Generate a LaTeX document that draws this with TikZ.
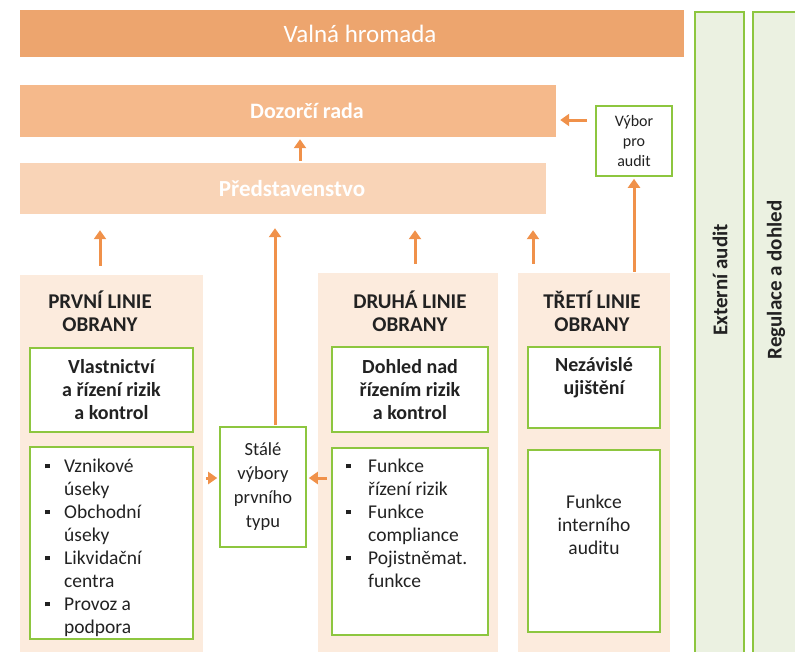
\documentclass[tikz,border=0pt]{standalone}
\usepackage{fontspec}
\setmainfont{Carlito}
\usetikzlibrary{arrows.meta}

\definecolor{hromada}{HTML}{EDA56E}
\definecolor{dozor}{HTML}{F5B98B}
\definecolor{predst}{HTML}{F9D4B7}
\definecolor{linebg}{HTML}{FCEBDD}
\definecolor{arr}{HTML}{F0914A}
\definecolor{grn}{HTML}{8DC63F}
\definecolor{sidebg}{HTML}{EBF1E1}
\definecolor{ink}{HTML}{222222}

\tikzset{
  bar/.style={rectangle, fill=#1, text=white, inner sep=0pt},
  defence/.style={rectangle, fill=linebg, inner sep=0pt},
  gbox/.style={rectangle, draw=grn, line width=1.6pt, fill=white, inner sep=0pt, align=center, text=ink},
  side/.style={rectangle, draw=grn, line width=1.6pt, fill=sidebg, inner sep=0pt},
  title/.style={align=center, text=ink, font=\bfseries\fontsize{21}{23}\selectfont},
  up/.style={draw=arr, line width=3pt, -{Triangle[width=12pt,length=9pt]}},
}
\newcommand{\bul}{\rule[0.2em]{4.5pt}{4.5pt}}

\begin{document}
\begin{tikzpicture}[x=1pt, y=-1pt, font=\fontsize{19.5}{23}\selectfont]
  \useasboundingbox (0,0) rectangle (795,651);

  % bodies of the company
  \node[bar=hromada, minimum width=664pt, minimum height=47pt, font=\fontsize{25}{28}\selectfont] (valna) at (352,33.5) {\hspace*{16pt}Valná hromada};
  \node[bar=dozor, minimum width=536pt, minimum height=52pt, font={\bfseries\fontsize{22}{26}\selectfont}] (dozor) at (288,111) {\hspace*{38pt}Dozorčí rada};
  \node[bar=predst, minimum width=526pt, minimum height=51pt, font={\bfseries\fontsize{23}{26}\selectfont}] (predst) at (283,188.5) {\hspace*{18pt}Představenstvo};
  \node[gbox, minimum width=76pt, minimum height=70pt, font=\fontsize{16}{20}\selectfont] (vybor) at (634,141) {Výbor\\pro\\audit};

  % external columns
  \node[side, minimum width=49pt, minimum height=660pt] (ext) at (719.5,342) {};
  \node[side, minimum width=57pt, minimum height=660pt] (reg) at (781.5,342) {};
  \node[rotate=90, text=ink, font={\bfseries\fontsize{21}{24}\selectfont}] (exttxt) at (720,280) {Externí audit};
  \node[rotate=90, text=ink, font={\bfseries\fontsize{21}{24}\selectfont}] (regtxt) at (776,280) {Regulace a dohled};

  % three lines of defence
  \node[defence, minimum width=183pt, minimum height=390pt] (col1) at (111.5,470) {};
  \node[defence, minimum width=180pt, minimum height=392pt] (col2) at (408,469) {};
  \node[defence, minimum width=152pt, minimum height=392pt] (col3) at (594,469) {};

  \node[title] (tit1) at (100,311) {PRVNÍ LINIE\\OBRANY};
  \node[title] (tit2) at (410,311) {DRUHÁ LINIE\\OBRANY};
  \node[title] (tit3) at (592,311) {TŘETÍ LINIE\\OBRANY};

  \node[gbox, minimum width=163pt, minimum height=84pt, font={\bfseries\fontsize{20}{23}\selectfont}] (own1) at (111.5,390) {Vlastnictví\\a řízení rizik\\a kontrol};
  \node[gbox, minimum width=156pt, minimum height=85pt, font={\bfseries\fontsize{20}{23}\selectfont}] (own2) at (410,389.5) {Dohled nad\\řízením rizik\\a kontrol};
  \node[gbox, minimum width=132pt, minimum height=81pt, font={\bfseries\fontsize{20}{23}\selectfont}] (own3) at (594,387.5) {Nezávislé\\ujištění\\~};

  \node[gbox, minimum width=163pt, minimum height=192pt] (list1) at (111.5,543) {};
  \node[gbox, minimum width=156pt, minimum height=187pt] (list2) at (410,541.5) {};
  \node[gbox, minimum width=132pt, minimum height=182pt] (list3) at (594,541) {};
  \node[gbox, minimum width=86pt, minimum height=120pt, font=\fontsize{18.5}{24}\selectfont] (stale) at (263,487) {Stálé\\výbory\\prvního\\typu};

  \node[anchor=north west, inner sep=0pt, text=ink] (list1txt) at (45,456) {%
    \begin{tabular}{@{}p{19pt}@{}l@{}}
      \bul & Vznikové\\ & úseky\\
      \bul & Obchodní\\ & úseky\\
      \bul & Likvidační\\ & centra\\
      \bul & Provoz a\\ & podpora
    \end{tabular}};
  \node[anchor=north west, inner sep=0pt, text=ink] (list2txt) at (346,456) {%
    \begin{tabular}{@{}p{22pt}@{}l@{}}
      \bul & Funkce\\ & řízení rizik\\
      \bul & Funkce\\ & compliance\\
      \bul & Pojistněmat.\\ & funkce
    \end{tabular}};
  \node[align=center, text=ink] (list3txt) at (594,525) {Funkce\\interního\\auditu};

  % reporting arrows
  \coordinate (yvybor) at (0,120);
  \draw[up, shorten <=2pt, shorten >=2pt] ([xshift=17pt]predst.north) -- ([xshift=17pt]predst.north |- dozor.south);
  \draw[up, shorten <=8pt, shorten >=4pt] (vybor.west |- yvybor) -- (dozor.east |- yvybor);
  \draw[up, shorten <=1pt, shorten >=2pt] (col3.north -| vybor.south) -- (vybor.south);
  \draw[up, shorten <=9pt, shorten >=16pt] ([xshift=-11.5pt]col1.north) -- ([xshift=-11.5pt]col1.north |- predst.south);
  \draw[up, shorten <=9pt, shorten >=16pt] ([xshift=7pt]col2.north) -- ([xshift=7pt]col2.north |- predst.south);
  \draw[up, shorten <=9pt, shorten >=16pt] ([xshift=-61pt]col3.north) -- ([xshift=-61pt]col3.north |- predst.south);
  \draw[up, shorten <=1pt, shorten >=14pt] ([xshift=12pt]stale.north) -- ([xshift=12pt]stale.north |- predst.south);
  \draw[up, shorten <=12pt, shorten >=2pt] (list1.east |- stale.west) ++(0,-9) -- ([yshift=9pt]stale.west);
  \draw[up, shorten <=4pt, shorten >=2pt] ([yshift=9pt]list2.west |- stale.west) -- ([yshift=9pt]stale.east);
\end{tikzpicture}
\end{document}
